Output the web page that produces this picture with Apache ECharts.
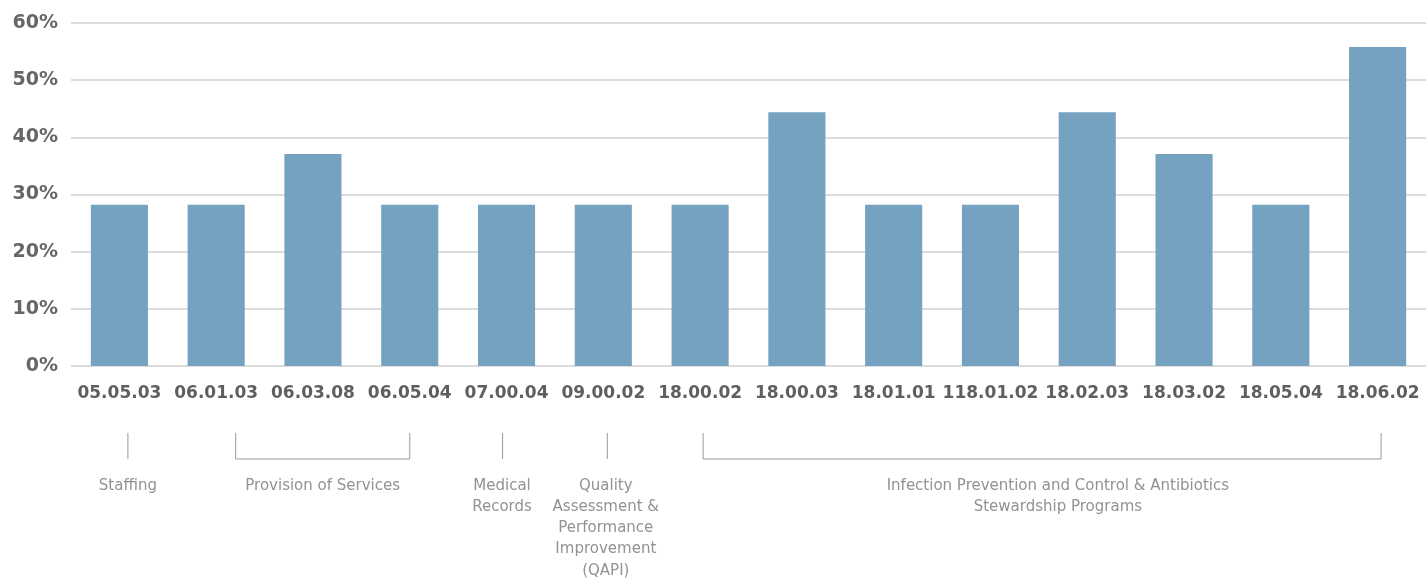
<!DOCTYPE html>
<html>
<head>
<meta charset="utf-8">
<script src="https://cdn.jsdelivr.net/npm/echarts@6/dist/echarts.min.js"></script>
<style>
  html, body { margin: 0; padding: 0; background: #fff; }
  #chart { width: 1428px; height: 580px; }
</style>
</head>
<body>
<div id="chart"></div>
<script>
// Regulation tags and share of facilities cited for each
const categories = ['05.05.03', '06.01.03', '06.03.08', '06.05.04', '07.00.04', '09.00.02', '18.00.02',
  '18.00.03', '18.01.01', '118.01.02', '18.02.03', '18.03.02', '18.05.04', '18.06.02'];
const values = [28.2, 28.2, 37.1, 28.2, 28.2, 28.2, 28.2, 44.4, 28.2, 28.2, 44.4, 37.1, 28.2, 55.8];
const yTicks = [0, 10, 20, 30, 40, 50, 60];

// Regulation groups (first and last category index)
const groupNames = ['Staffing', 'Provision of Services', 'Medical\nRecords',
  'Quality\nAssessment &\nPerformance\nImprovement\n(QAPI)',
  'Infection Prevention and Control & Antibiotics\nStewardship Programs'];
const groupStart = [0, 1, 4, 5, 6];
const groupEnd = [0, 3, 4, 5, 13];

// Fine placement of the group brackets (pixel nudges from the category centres)
const bracketLayout = [
  { a: 8.5, b: 8.5, t: 8.5 },
  { a: 19.5, b: 0, t: 9.7 },
  { a: -4, b: -4, t: -4.5 },
  { a: 4, b: 4, t: 2.5 },
  { a: 3, b: 3.5, t: 19 }
];

const FONT = '"DejaVu Sans", sans-serif';
const chart = echarts.init(document.getElementById('chart'), null, { renderer: 'canvas' });

chart.setOption({
  animation: false,
  grid: { left: 71, right: 2, top: 23, bottom: 214 },
  xAxis: {
    type: 'category',
    data: categories,
    axisLine: { show: false },
    axisTick: { show: false },
    axisLabel: {
      color: '#5f5f5f', fontFamily: FONT, fontWeight: 'bold', fontSize: 17,
      margin: 19, interval: 0
    }
  },
  yAxis: {
    type: 'value',
    min: 0, max: 60, interval: 10,
    axisLine: { show: false },
    axisTick: { show: false },
    splitLine: { lineStyle: { color: '#d0d0d0', width: 1.5 } },
    axisLabel: {
      color: '#666666', fontFamily: FONT, fontWeight: 'bold', fontSize: 19,
      margin: 13,
      formatter: v => yTicks.includes(v) ? v + '%' : ''
    }
  },
  series: [{
    type: 'bar',
    data: values,
    barWidth: '59%',
    itemStyle: { color: '#74a2c0' }
  }]
});

// Group brackets and captions below the axis labels
const elements = [];
const yTop = 433, yBot = 459;
const lineStyle = { stroke: '#9a9a9a', lineWidth: 1 };
groupNames.forEach((name, i) => {
  const L = bracketLayout[i];
  const xa = chart.convertToPixel({ xAxisIndex: 0 }, groupStart[i]) + L.a;
  const xb = chart.convertToPixel({ xAxisIndex: 0 }, groupEnd[i]) + L.b;
  const xt = (chart.convertToPixel({ xAxisIndex: 0 }, groupStart[i]) +
              chart.convertToPixel({ xAxisIndex: 0 }, groupEnd[i])) / 2 + L.t;
  if (groupStart[i] === groupEnd[i]) {
    elements.push({ type: 'line', shape: { x1: xa, y1: yTop, x2: xa, y2: yBot }, style: lineStyle });
  } else {
    elements.push({ type: 'polyline', shape: { points: [[xa, yTop], [xa, yBot], [xb, yBot], [xb, yTop]] }, style: lineStyle });
  }
  elements.push({
    type: 'text', x: xt, y: 475,
    style: {
      text: name, fill: '#929292', font: '15px ' + FONT,
      align: 'center', verticalAlign: 'top', lineHeight: 21.3
    }
  });
});
chart.setOption({ graphic: { elements } });
</script>
</body>
</html>
